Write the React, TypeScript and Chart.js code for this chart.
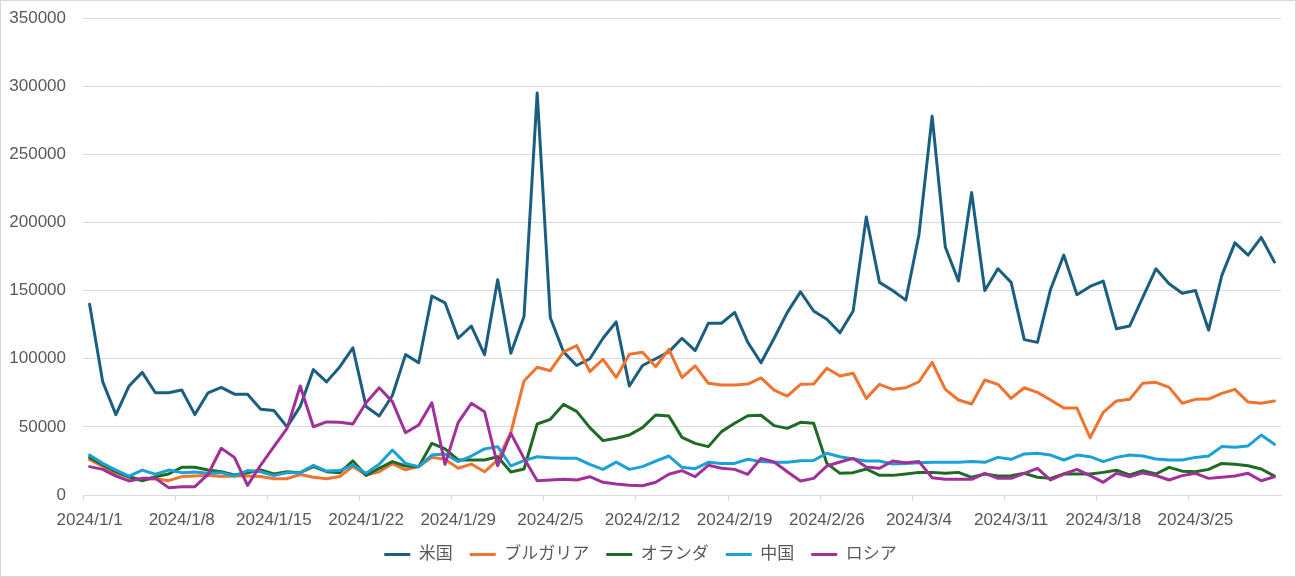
import { useEffect, useRef } from "react";
import * as React from "react";
import { Chart, registerables } from "chart.js";

Chart.register(...registerables);

// daily, 2024/1/1 .. 2024/3/31
const dates: string[] = [];
for (let i = 0; i < 91; i++) {
  const d = new Date(2024, 0, 1 + i);
  dates.push(`${d.getFullYear()}/${d.getMonth() + 1}/${d.getDate()}`);
}

const seriesNames = ["米国", "ブルガリア", "オランダ", "中国", "ロシア"];
const seriesColors = ["#1A5E80", "#EE7430", "#1E6B24", "#1CA0D8", "#A0309A"];

const usa = [
  140000, 83000, 59000, 80000, 90000, 75000, 75000, 77000, 59000, 75000,
  79000, 74000, 74000, 63000, 62000, 50000, 65000, 92000, 83000, 94000,
  108000, 65000, 58000, 73000, 103000, 97000, 146000, 141000, 115000, 124000,
  103000, 158000, 104000, 131000, 295000, 130000, 105000, 95000, 100000, 115000,
  127000, 80000, 95000, 100000, 105000, 115000, 106000, 126000, 126000, 134000,
  112000, 97000, 115000, 134000, 149000, 135000, 129000, 119000, 135000, 204000,
  156000, 150000, 143000, 191000, 278000, 182000, 157000, 222000, 150000, 166000,
  156000, 114000, 112000, 151000, 176000, 147000, 153000, 157000, 122000, 124000,
  145000, 166000, 155000, 148000, 150000, 121000, 161000, 185000, 176000, 189000,
  171000,
];

const bulgaria = [
  26000, 21000, 16000, 13000, 11500, 12000, 10500, 13500, 14000, 14500,
  13500, 14000, 14000, 13500, 12000, 12000, 15000, 13000, 12000, 13500,
  21000, 14700, 17000, 23000, 18500, 20800, 27600, 26200, 19600, 22700,
  17000, 25700, 45700, 83700, 93700, 91200, 105000, 109600, 90500, 99600,
  86300, 103300, 104700, 94100, 106900, 86100, 94700, 82000, 80700, 80700,
  81400, 85900, 77000, 72600, 81200, 81400, 93000, 87300, 89300, 70900,
  81200, 77500, 78700, 83100, 97400, 77500, 69700, 66800, 84400, 81200,
  70900, 78700, 75300, 69700, 63800, 63800, 42000, 60700, 69000, 70200,
  82000, 82700, 79000, 67300, 70200, 70400, 74600, 77500, 68200, 67300,
  69000,
];

const netherlands = [
  27600, 22000, 17100, 13400, 10500, 13400, 15400, 20300, 20300, 18300,
  17100, 14700, 16400, 18300, 15400, 17100, 16400, 20800, 17100, 16400,
  25000, 14400, 19600, 24500, 21300, 20800, 37900, 33800, 25700, 25700,
  25700, 28100, 16900, 19100, 52100, 55500, 66500, 61400, 49400, 39900,
  41600, 44000, 49400, 58700, 58000, 42300, 37900, 35500, 46500, 52600,
  58200, 58500, 50900, 48900, 53300, 52600, 23200, 15900, 16400, 19100,
  14400, 14400, 15400, 16600, 16600, 15900, 16600, 13000, 15400, 13900,
  14200, 15900, 13000, 12200, 15400, 15400, 15400, 16600, 18200, 14700,
  17900, 15400, 20300, 17500, 17100, 18800, 23200, 22500, 21500, 19100,
  13900,
];

const china = [
  29300, 23200, 18300, 13900, 18300, 15200, 18300, 16400, 16900, 15900,
  16400, 13900, 17900, 17100, 14200, 16400, 16400, 21800, 17600, 17900,
  22000, 15900, 22500, 33000, 23200, 20800, 29300, 30100, 24500, 28600,
  33800, 35500, 21300, 25200, 28100, 27400, 26900, 26900, 22500, 18800,
  24100, 18800, 20800, 24900, 28600, 20300, 19300, 24000, 23200, 23200,
  26200, 24500, 24000, 24000, 25200, 25400, 30600, 28100, 26400, 24900,
  24900, 22700, 23200, 23700, 24000, 24000, 24000, 24500, 24000, 27600,
  26200, 30100, 30600, 29300, 25700, 29300, 28100, 24500, 27600, 29300,
  28600, 26400, 25700, 25700, 27600, 28600, 35500, 35000, 36000, 44000,
  37200,
];

const russia = [
  20800, 18800, 13900, 10300, 12200, 12200, 5400, 6100, 6100, 15200,
  34300, 27600, 7100, 22000, 35500, 48900, 80000, 50100, 53600, 53400,
  52100, 67700, 78700, 68500, 45700, 51400, 67700, 22500, 53300, 67300,
  61100, 21500, 45200, 26900, 10500, 11000, 11500, 11000, 13400, 9300,
  8000, 7200, 6800, 9300, 15200, 17900, 13400, 21800, 19600, 18800,
  15200, 26900, 24200, 17100, 10300, 12200, 21300, 24200, 26900, 20500,
  19600, 24900, 23700, 24500, 12700, 11500, 11500, 11500, 15900, 12200,
  12200, 15900, 19600, 11000, 15400, 18800, 14200, 9300, 15900, 13400,
  16200, 14300, 11000, 14200, 15900, 12200, 13000, 13900, 15900, 10500,
  13400,
];

const seriesValues = [usa, bulgaria, netherlands, china, russia];

const FONT = '"Liberation Sans", "Noto Sans CJK JP", sans-serif';
const TEXT = "#595959";
const GRID = "#d9d9d9";

const LineChart: React.FC = () => {
  const canvasRef = useRef<HTMLCanvasElement>(null);

  useEffect(() => {
    if (!canvasRef.current) return;
    const chart = new Chart(canvasRef.current, {
      type: "line",
      data: {
        labels: dates,
        datasets: seriesNames.map((name, i) => ({
          label: name,
          data: seriesValues[i],
          borderColor: seriesColors[i],
          backgroundColor: seriesColors[i],
          borderWidth: 3,
          pointRadius: 0,
          tension: 0,
          borderCapStyle: "round" as const,
          borderJoinStyle: "round" as const,
          order: seriesNames.length - i, // later series drawn on top, like the original
        })),
      },
      options: {
        responsive: true,
        maintainAspectRatio: false,
        animation: false,
        layout: { padding: { top: 18, right: 15, bottom: 4, left: 0 } },
        plugins: {
          tooltip: { enabled: false },
          legend: {
            position: "bottom",
            labels: {
              usePointStyle: true,
              pointStyle: "line",
              pointStyleWidth: 26,
              padding: 17,
              color: TEXT,
              font: { family: FONT, size: 17 },
              sort: (a, b) => (a.datasetIndex ?? 0) - (b.datasetIndex ?? 0),
            },
          },
        },
        scales: {
          x: {
            type: "category",
            offset: true,
            grid: {
              offset: true,
              drawOnChartArea: false,
              drawTicks: true,
              tickLength: 6,
              color: (ctx) => (ctx.index % 7 === 0 ? GRID : "rgba(0,0,0,0)"),
            },
            border: { color: GRID, width: 1 },
            ticks: {
              autoSkip: false,
              maxRotation: 0,
              padding: 9,
              color: TEXT,
              font: { family: FONT, size: 17 },
              callback: (_v, i) => (i % 7 === 0 ? dates[i] : ""),
            },
            afterFit: (scale) => {
              scale.height = 34;
            },
          },
          y: {
            min: 0,
            max: 350000,
            grid: { color: GRID, drawTicks: false },
            border: { display: false },
            ticks: {
              stepSize: 50000,
              padding: 17,
              color: TEXT,
              font: { family: FONT, size: 17 },
              callback: (v) => String(v),
            },
            afterFit: (scale) => {
              scale.width = 83;
              scale.paddingTop = 0;
              scale.paddingBottom = 0;
            },
          },
        },
      },
    });
    return () => chart.destroy();
  }, []);

  return <canvas ref={canvasRef}></canvas>;
};

export default function App() {
  return (
    <div
      style={{
        position: "fixed",
        left: 0,
        top: 0,
        width: 1296,
        height: 577,
        background: "#fff",
      }}
    >
      <div style={{ position: "absolute", left: 0, top: 0, width: 1296, height: 577 }}>
        <LineChart />
      </div>
      <div
        style={{
          position: "absolute",
          left: 0,
          top: 0,
          width: 1296,
          height: 577,
          boxSizing: "border-box",
          border: "1px solid #d9d9d9",
          pointerEvents: "none",
        }}
      />
    </div>
  );
}
